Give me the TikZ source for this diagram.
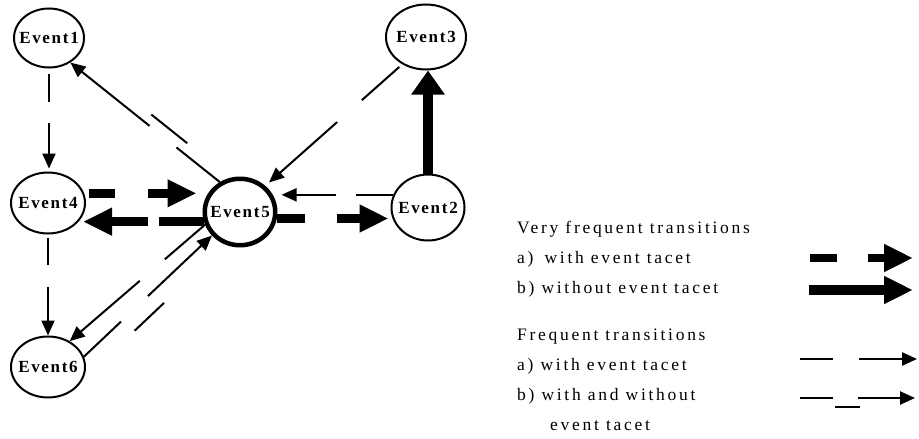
\documentclass[tikz,border=0pt]{standalone}
\usepackage{fontspec}
\setmainfont{Liberation Serif}
\newfontfamily\evfont[LetterSpace=10]{Liberation Serif}
\newfontfamily\lgfont[LetterSpace=15.5]{Liberation Serif}
\usetikzlibrary{arrows.meta,calc,shapes.geometric}
\newcommand\evlabel[1]{\makebox[0pt]{#1}}
\begin{document}
\begin{tikzpicture}[x=1pt,y=-1pt,
  ev/.style={draw, ellipse, line width=2pt, inner sep=0pt, font=\evfont\bfseries\fontsize{17}{17}\selectfont},
  thinline/.style={line width=2pt},
  thinarr/.style={line width=2pt, -{Triangle[length=15pt,width=13pt]}},
  bigarr/.style={line width=9pt, -{Triangle[length=29pt,width=26pt]}},
  lg/.style={anchor=base west, inner sep=0pt, font=\lgfont\fontsize{17.5}{20}\selectfont},
]
\useasboundingbox (0,0) rectangle (919,439);

% nodes
\node[ev, minimum width=70pt, minimum height=59pt] (e1) at (49,38) {\evlabel{Event1}};
\node[ev, minimum width=80pt, minimum height=65pt] (e3) at (426,37) {\evlabel{Event3}};
\node[ev, minimum width=74pt, minimum height=61pt] (e4) at (48,203) {\evlabel{Event4}};
\node[ev, line width=4.5pt, minimum width=70.5pt, minimum height=66.5pt] (e5) at (240,212) {\evlabel{Event5}};
\node[ev, minimum width=73pt, minimum height=66pt] (e2) at (428,207.5) {\evlabel{Event2}};
\node[ev, minimum width=74pt, minimum height=61pt] (e6) at (48,367) {\evlabel{Event6}};

% frequent transitions with event tacet
\draw[thinarr, dash pattern=on 28pt off 21pt on 400pt, shorten <=5pt, shorten >=3pt] (e1.south) -- (e1.south |- e4.north);
\draw[thinarr, dash pattern=on 27pt off 22pt on 400pt, shorten <=3pt] (e4.south) -- (e4.south |- e6.north);
\draw[thinarr, dash pattern=on 50pt off 33pt on 400pt, shorten <=4pt, shorten >=5pt] (e3.229) -- (e5.46);
\draw[thinarr, dash pattern=on 37pt off 20pt on 400pt, shorten >=4pt] (e2.160) -- (e2.160 -| e5.east);
\draw[thinarr, dash pattern=on 53pt off 33pt on 400pt] (e5.200) -- (e6.50);

% frequent transitions with and without event tacet
\path (e5.124) -- (e1.311)
  coordinate[pos=0.29] (p1a) coordinate[pos=0.26] (p1b)
  coordinate[pos=0.50] (p1c) coordinate[pos=0.47] (p1d);
\draw[thinline] (e5.124) -- (p1a);
\draw[thinline] ($(p1b)!10pt!-90:(e1.311)$) -- ($(p1c)!10pt!-90:(e1.311)$);
\draw[thinarr] (p1d) -- (e1.311);

\path (e6.16) -- (e5.220)
  coordinate[pos=0.29] (p2a) coordinate[pos=0.31] (p2b)
  coordinate[pos=0.54] (p2c) coordinate[pos=0.50] (p2d);
\draw[thinline] (e6.16) -- (p2a);
\draw[thinline] ($(p2b)!16pt!-90:(e5.220)$) -- ($(p2c)!16pt!-90:(e5.220)$);
\draw[thinarr] (p2d) -- (e5.220);

% very frequent transitions
\draw[bigarr, dash pattern=on 26pt off 33pt on 400pt, shorten <=5pt, shorten >=6pt] (e4.15) -- (e4.15 -| e5.west);
\draw[bigarr, dash pattern=on 45pt off 11pt on 400pt, shorten >=-3pt] (e5.195) -- (e5.195 -| e4.east);
\draw[bigarr, dash pattern=on 28pt off 32pt on 400pt, shorten >=2pt] (e5.350) -- (e5.350 -| e2.west);
\draw[line width=10pt, -{Triangle[length=24pt,width=32pt]}] (e2.north) -- (e2.north |- e3.south);

% legend
\node[lg] (t1) at (517,233) {Very frequent transitions};
\node[lg] (t2) at (517,263) {a)\hspace{4pt} with event tacet};
\node[lg] (t3) at (517,293) {b) without event tacet};
\node[lg] (t4) at (517,340) {Frequent transitions};
\node[lg] (t5) at (517,370) {a) with event tacet};
\node[lg] (t6) at (517,400) {b) with and without};
\node[lg] (t7) at (550,430) {event tacet};

\coordinate (l1s) at (810,258); \coordinate (l1e) at (913,258);
\coordinate (l2s) at (809,290); \coordinate (l2e) at (913,290);
\coordinate (l3s) at (800,359); \coordinate (l3e) at (917,359);
\coordinate (l4s) at (800,398); \coordinate (l4e) at (915,398);

\draw[bigarr, line width=8pt, dash pattern=on 27pt off 31pt on 400pt] (l1s) -- (l1e);
\draw[bigarr, line width=10pt] (l2s) -- (l2e);
\draw[thinarr, line width=2.5pt, dash pattern=on 33pt off 26pt on 400pt] (l3s) -- (l3e);
\path (l4s) -- (l4e)
  coordinate[pos=0.287] (q1) coordinate[pos=0.304] (q2)
  coordinate[pos=0.522] (q3) coordinate[pos=0.504] (q4);
\draw[thinline, line width=2.5pt] (l4s) -- (q1);
\draw[thinline, line width=2.5pt] ($(q2)!9pt!-90:(l4e)$) -- ($(q3)!9pt!-90:(l4e)$);
\draw[thinarr, line width=2.5pt] (q4) -- (l4e);
\end{tikzpicture}
\end{document}
